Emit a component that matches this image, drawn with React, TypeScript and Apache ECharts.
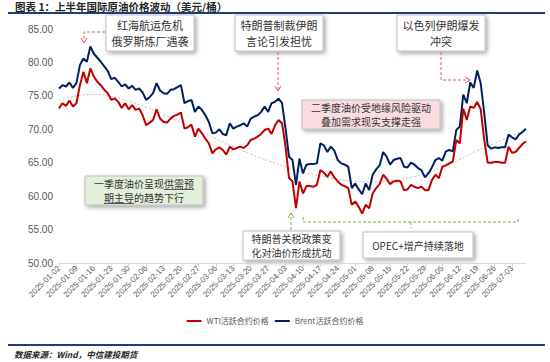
import React, { useEffect, useRef } from "react";
import * as echarts from "echarts";

// ---- data ----
const startDate = "2025-01-02";
const endDate = "2025-07-09";

const brentValues = [
  76.1, 76.6, 76.4, 77.0, 76.2, 76.9, 79.6, 80.6, 80.1, 82.4,
  81.3, 80.7, 80.1, 79.4, 78.7, 77.5, 77.7, 77.1, 76.4, 76.7,
  76.1, 76.5, 75.9, 76.1, 75.5, 74.4, 74.8, 75.4, 76.9, 75.8,
  75.4, 75.3, 75.9, 76.0, 76.3, 76.6, 73.9, 74.2, 74.4, 72.6,
  73.4, 72.9, 72.1, 71.1, 69.4, 69.5, 70.0, 69.3, 69.1, 70.9,
  70.1, 70.4, 70.6, 70.9, 70.4, 71.6, 71.9, 72.1, 72.6, 73.4,
  72.6, 73.9, 74.1, 74.6, 73.9, 70.1, 65.9, 65.4, 61.7, 65.6,
  63.4, 64.7, 64.8, 64.8, 64.9, 67.9, 67.6, 66.6, 67.4, 66.8,
  65.4, 64.9, 64.7, 64.4, 61.2, 61.9, 61.0, 60.3, 61.9, 60.9,
  63.2, 64.0, 64.6, 66.6, 65.9, 64.7, 65.4, 65.6, 65.7, 64.4,
  64.3, 65.0, 64.7, 64.2, 63.9, 62.8, 63.4, 64.3, 65.4, 65.7,
  65.3, 66.7, 66.9, 66.7, 69.9, 70.4, 75.2, 73.9, 77.0, 76.2,
  78.8, 76.9, 72.5, 67.6, 67.1, 67.3, 67.2, 67.3, 67.3, 69.2,
  68.8, 68.5, 69.2, 69.6, 70.1,
];

const wtiValues = [
  73.1, 73.9, 73.5, 74.3, 73.4, 73.9, 76.6, 78.6, 76.9, 79.1,
  77.9, 77.1, 76.6, 75.9, 75.4, 74.4, 74.6, 74.1, 73.2, 73.9,
  73.0, 73.6, 72.9, 73.1, 72.1, 70.6, 71.0, 71.4, 73.0, 71.6,
  71.1, 71.0, 71.6, 72.0, 72.2, 72.5, 70.1, 70.3, 70.7, 68.9,
  70.1, 69.4, 68.6, 67.9, 66.4, 67.0, 67.3, 66.9, 66.2, 67.4,
  67.0, 67.2, 67.4, 67.2, 67.6, 68.4, 68.6, 68.9, 69.3, 69.9,
  70.1, 69.3, 70.6, 71.4, 70.9, 67.4, 62.7, 62.2, 58.2, 62.2,
  60.4, 61.5, 61.5, 61.4, 61.7, 63.9, 63.5, 62.9, 63.7, 62.8,
  62.2, 61.7, 61.5, 61.2, 58.7, 59.2, 58.4, 57.4, 58.7, 58.2,
  60.4, 61.2, 61.8, 63.2, 62.6, 61.8, 62.2, 62.3, 62.2, 60.9,
  61.0, 61.7, 61.4, 61.2, 61.4, 60.9, 60.9, 62.4, 63.2, 62.7,
  64.4, 64.6, 64.9, 65.2, 68.4, 67.9, 73.1, 71.4, 73.4, 73.2,
  74.1, 73.0, 68.5, 65.0, 65.0, 65.1, 65.1, 65.0, 65.0, 67.4,
  66.5, 66.6, 67.2, 67.8, 68.2,
];

// sparse readings of the grey trend curve: [index, value]
const trendReadings: [number, number][] = [
  [0, 74.4], [5, 75.0], [10, 75.2], [15, 74.9], [20, 74.2], [25, 73.3],
  [30, 72.2], [35, 71.0], [40, 69.8], [45, 68.6], [50, 67.4], [55, 66.3],
  [60, 65.3], [65, 64.4], [70, 63.6], [75, 63.0], [80, 62.5], [85, 62.2],
  [90, 62.1], [95, 62.3], [100, 62.7], [105, 63.4], [110, 64.3], [115, 65.5],
  [120, 66.8], [125, 67.9], [130, 69.0], [134, 70.0],
];

const yTicks = { min: 50, max: 85, interval: 5 };
const seriesNames = ["WTI活跃合约价格", "Brent活跃合约价格"];
const titleText = "图表 1：上半年国际原油价格波动（美元/桶）";
const sourceText = "数据来源：Wind，中信建投期货";

function weekdayDates(start: string, end: string): string[] {
  const out: string[] = [];
  const d = new Date(start + "T00:00:00Z");
  const e = new Date(end + "T00:00:00Z");
  while (d <= e) {
    const wd = d.getUTCDay();
    if (wd !== 0 && wd !== 6) out.push(d.toISOString().slice(0, 10));
    d.setUTCDate(d.getUTCDate() + 1);
  }
  return out;
}

const CJK = '"Noto Sans CJK SC", "Noto Sans", sans-serif';

function box(x: number, y: number, w: number, h: number, fill: string, lines: string[], fontSize: number, lineStep: number, stroke = "#bfbfbf") {
  const cy = y + h / 2;
  const first = cy - ((lines.length - 1) * lineStep) / 2;
  return {
    type: "group",
    children: [
      {
        type: "rect",
        shape: { x, y, width: w, height: h },
        style: {
          fill,
          stroke,
          lineWidth: 1,
          shadowColor: "rgba(0,0,0,0.35)",
          shadowBlur: 4,
          shadowOffsetX: 2,
          shadowOffsetY: 2,
        },
      },
      ...lines.map((t, k) => ({
        type: "text",
        style: {
          x: x + w / 2,
          y: first + k * lineStep,
          text: t,
          align: "center",
          verticalAlign: "middle",
          fill: "#333333",
          font: `${fontSize}px ${CJK}`,
        },
      })),
    ],
  };
}

function dashed(points: number[][], color: string) {
  return {
    type: "polyline",
    shape: { points },
    style: { stroke: color, lineWidth: 1, lineDash: [3, 2], fill: null },
    z: 10,
  };
}
function head(points: number[][], color: string) {
  return {
    type: "polyline",
    shape: { points },
    style: { stroke: color, lineWidth: 1, fill: null },
    z: 10,
  };
}

export default function App() {
  const ref = useRef<HTMLDivElement>(null);
  useEffect(() => {
    if (!ref.current) return;
    const chart = echarts.init(ref.current, null, { renderer: "svg" });
    const dates = weekdayDates(startDate, endDate);
    const trend: (number | null)[] = dates.map(() => null);
    trendReadings.forEach(([i, v]) => (trend[i] = v));
    const red = "#e35b61";
    const green = "#70ad47";

    chart.setOption({
      animation: false,
      backgroundColor: "#ffffff",
      grid: { left: 59, right: 24, top: 29, bottom: 99 },
      legend: {
        data: seriesNames,
        top: 312,
        left: "center",
        itemWidth: 15,
        itemHeight: 2,
        itemGap: 6,
        icon: "rect",
        textStyle: { fontSize: 8, color: "#595959", fontFamily: CJK },
      },
      xAxis: {
        type: "category",
        data: dates,
        boundaryGap: false,
        axisLine: { lineStyle: { color: "#d9d9d9" } },
        axisTick: { interval: 4, length: 4, lineStyle: { color: "#d9d9d9" } },
        axisLabel: { interval: 4, rotate: 45, fontSize: 8, color: "#595959", margin: 4 },
        splitLine: { show: false },
      },
      yAxis: {
        type: "value",
        min: yTicks.min,
        max: yTicks.max,
        interval: yTicks.interval,
        axisLine: { show: false },
        axisTick: { show: false },
        splitLine: { show: false },
        axisLabel: { color: "#595959", fontSize: 10, formatter: (v: number) => v.toFixed(2), margin: 6 },
      },
      series: [
        {
          name: "趋势",
          type: "line",
          data: trend,
          connectNulls: true,
          smooth: true,
          symbol: "none",
          lineStyle: { color: "#bdbdbd", width: 1, type: [2, 2] },
          z: 1,
        },
        {
          name: seriesNames[0],
          type: "line",
          data: wtiValues,
          symbol: "none",
          itemStyle: { color: "#c00000" },
          lineStyle: { color: "#c00000", width: 2 },
          z: 3,
        },
        {
          name: seriesNames[1],
          type: "line",
          data: brentValues,
          symbol: "none",
          itemStyle: { color: "#002060" },
          lineStyle: { color: "#002060", width: 2 },
          z: 2,
        },
      ],
      graphic: [
        {
          type: "text",
          style: { x: 15, y: 6, text: titleText, verticalAlign: "middle", font: `bold 10.5px ${CJK}`, fill: "#262626" },
        },
        { type: "line", shape: { x1: 8, y1: 13, x2: 545, y2: 13 }, style: { stroke: "#1f3d7a", lineWidth: 2 } },
        { type: "line", shape: { x1: 8, y1: 345, x2: 545, y2: 345 }, style: { stroke: "#1f3d7a", lineWidth: 2 } },
        {
          type: "text",
          style: { x: 14, y: 354, text: sourceText, verticalAlign: "middle", font: `italic bold 8.5px ${CJK}`, fill: "#262626" },
        },
        box(106, 15, 88, 36, "#ffffff", ["红海航运危机", "俄罗斯炼厂遇袭"], 11, 16),
        box(235, 15, 88, 36, "#ffffff", ["特朗普制裁伊朗", "言论引发担忧"], 11, 16),
        box(397, 15, 88, 36, "#ffffff", ["以色列伊朗爆发", "冲突"], 11, 16),
        box(302, 100, 138, 29, "#f9dcdf", ["二季度油价受地缘风险驱动", "叠加需求现实支撑走强"], 10, 14),
        box(85, 176, 118, 29, "#e2efda", ["一季度油价呈现供需预", "期主导的趋势下行"], 10, 14),
        box(243, 231, 97, 29, "#ffffff", ["特朗普关税政策变", "化对油价形成扰动"], 10, 14),
        box(363, 232, 110, 26, "#ffffff", ["OPEC+增产持续落地"], 10, 14),
        { type: "line", shape: { x1: 164, y1: 189.5, x2: 194, y2: 189.5 }, style: { stroke: "#333333", lineWidth: 0.8 }, z: 20 },
        { type: "line", shape: { x1: 104, y1: 203.5, x2: 134, y2: 203.5 }, style: { stroke: "#333333", lineWidth: 0.8 }, z: 20 },
        dashed([[105, 32], [84, 32], [84, 42]], red),
        head([[81, 38], [84, 43], [87, 38]], red),
        dashed([[278, 52], [278, 90]], red),
        head([[275, 86], [278, 91], [281, 86]], red),
        dashed([[441, 52], [441, 80], [469, 80]], red),
        head([[465, 77], [470, 80], [465, 83]], red),
        dashed([[291, 230], [291, 215]], green),
        head([[288, 218], [291, 213], [294, 218]], green),
        dashed([[303, 217], [303, 222], [518, 222], [518, 217]], green),
        dashed([[411, 222], [411, 228]], green),
      ],
    });
    return () => chart.dispose();
  }, []);
  return <div ref={ref} style={{ position: "fixed", left: 0, top: 0, width: 550, height: 362 }} />;
}
